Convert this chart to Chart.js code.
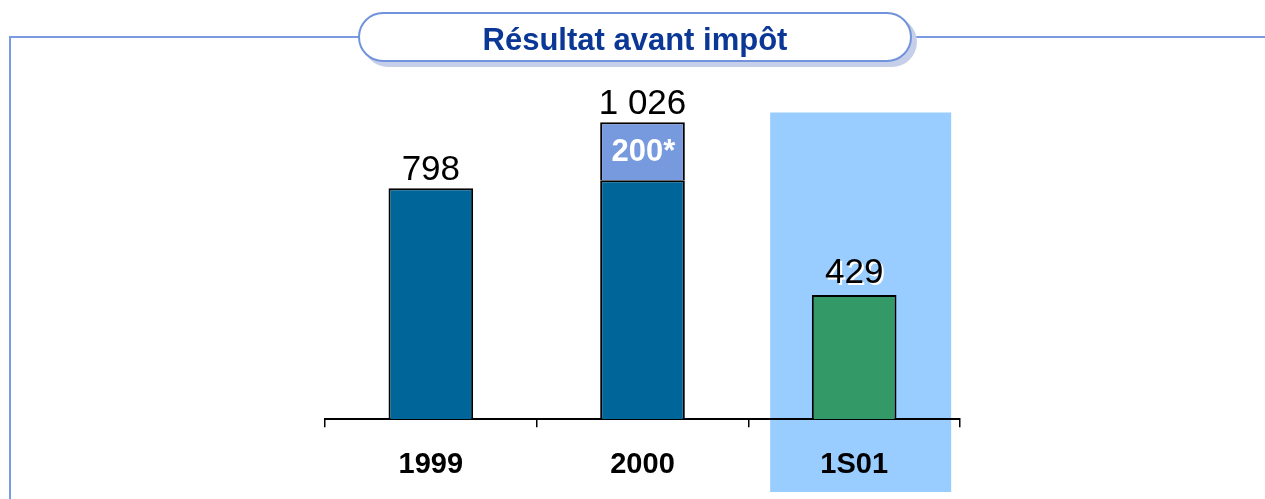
<!DOCTYPE html>
<html>
<head>
<meta charset="utf-8">
<script src="https://cdn.jsdelivr.net/npm/chart.js@4.4.1/dist/chart.umd.min.js"></script>
<style>
  html, body { margin: 0; padding: 0; background: #fff; }
  #wrap { position: relative; width: 1265px; height: 499px; overflow: hidden; font-family: "Liberation Sans", Arial, sans-serif; }
  #chart { position: absolute; left: 0; top: 0; }
  .frame-h { position: absolute; top: 36px; height: 2px; background: #7b9be0; }
  .frame-v { position: absolute; left: 9px; top: 36px; bottom: 0; width: 2px; background: #7b9be0; }
  #title {
    position: absolute; left: 358px; top: 12px; width: 550px; height: 46px;
    border: 2px solid #7093db; border-radius: 26px; background: #fff;
    box-shadow: 5px 5px 0 #c6cfea;
    text-align: center; line-height: 52px;
    font-weight: bold; font-size: 31px; color: #0b3896;
  }
</style>
</head>
<body>
<div id="wrap">
  <canvas id="chart" width="1265" height="499"></canvas>
  <div class="frame-h" style="left: 9px; width: 352px;"></div>
  <div class="frame-h" style="left: 910px; right: 0;"></div>
  <div class="frame-v"></div>
  <div id="title">Résultat avant impôt</div>
</div>
<script>
const categories = ["1999", "2000", "1S01"];
const baseValues = [798, 826, 429];
const extraValues = [null, 200, null];
const extraLabels = [null, "200*", null];
const highlightCategory = "1S01";

const FONT = "'Liberation Sans', Arial, sans-serif";

function formatTotal(value) {
  return String(value).replace(/\B(?=(\d{3})+(?!\d))/g, " ");
}

const highlightPlugin = {
  id: "highlight",
  beforeDraw(chart) {
    const x = chart.scales.x;
    const y = chart.scales.y;
    const idx = categories.indexOf(highlightCategory);
    if (idx < 0) {
      return;
    }
    const center = x.getPixelForValue(idx);
    const top = y.getPixelForValue(1060);
    const ctx = chart.ctx;
    ctx.save();
    ctx.fillStyle = "#99ccff";
    ctx.fillRect(center - 84, top, 181, 492 - top);
    ctx.restore();
  },
};

const labelPlugin = {
  id: "barLabels",
  afterDatasetsDraw(chart) {
    const ctx = chart.ctx;
    const baseMeta = chart.getDatasetMeta(0);
    const extraMeta = chart.getDatasetMeta(1);
    ctx.save();
    categories.forEach(function (cat, i) {
      const hasExtra = extraValues[i] !== null;
      const topBar = hasExtra ? extraMeta.data[i] : baseMeta.data[i];
      const total = baseValues[i] + (hasExtra ? extraValues[i] : 0);
      const text = formatTotal(total);

      ctx.font = "35px " + FONT;
      ctx.textAlign = "center";
      ctx.textBaseline = "alphabetic";
      if (cat === highlightCategory) {
        ctx.fillStyle = "#fff";
        ctx.fillText(text, topBar.x + 2, topBar.y - 12 + 2);
      }
      ctx.fillStyle = "#000";
      ctx.fillText(text, topBar.x, topBar.y - (cat === highlightCategory ? 12 : 8));

      if (hasExtra && extraLabels[i]) {
        const el = extraMeta.data[i];
        ctx.font = "bold 31px " + FONT;
        ctx.textBaseline = "middle";
        ctx.fillStyle = "#fff";
        ctx.fillText(extraLabels[i], el.x + 1, (el.y + el.base) / 2 + 1);
      }
    });
    ctx.restore();
  },
};

new Chart(document.getElementById("chart"), {
  type: "bar",
  data: {
    labels: categories,
    datasets: [
      {
        data: baseValues,
        backgroundColor: ["#006699", "#006699", "#339966"],
        borderColor: "#000",
        borderWidth: 2,
        barPercentage: 0.4,
        categoryPercentage: 1,
      },
      {
        data: extraValues,
        backgroundColor: "#7799dd",
        borderColor: "#000",
        borderWidth: 2,
        barPercentage: 0.4,
        categoryPercentage: 1,
      },
    ],
  },
  options: {
    responsive: false,
    animation: false,
    layout: {
      padding: { left: 325, right: 305, top: 72, bottom: -3 },
    },
    plugins: {
      legend: { display: false },
      tooltip: { enabled: false },
    },
    scales: {
      x: {
        stacked: true,
        grid: {
          display: true,
          drawOnChartArea: false,
          drawTicks: true,
          tickLength: 8,
          color: "#000",
          lineWidth: 1.5,
        },
        border: { display: true, color: "#000", width: 2 },
        ticks: {
          color: "#000",
          padding: 20,
          font: { family: FONT, size: 29, weight: "bold" },
        },
      },
      y: {
        stacked: true,
        display: false,
        min: 0,
        max: 1200,
      },
    },
  },
  plugins: [highlightPlugin, labelPlugin],
});
</script>
</body>
</html>
